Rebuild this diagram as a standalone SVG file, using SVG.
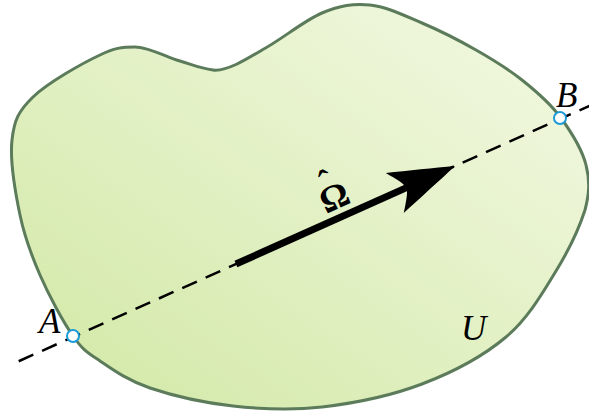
<svg xmlns="http://www.w3.org/2000/svg" width="589" height="414" viewBox="0 0 589 414">
<defs>
<linearGradient id="g" x1="0" y1="1" x2="1" y2="0">
<stop offset="0" stop-color="#d1e8a4"/>
<stop offset="1" stop-color="#f4f9e5"/>
</linearGradient>
<style>
.lbl{font-family:"Liberation Serif","DejaVu Serif",serif;font-style:italic;font-size:35px;fill:#000}
.pt{fill:#fff;stroke:#1a9ad8;stroke-width:2}
.om{font-family:"Liberation Serif","DejaVu Serif",serif;font-weight:bold;fill:#000}
</style>
</defs>
<g id="region-U">
<path d="M213,70 C226.7,71.8 248.3,58.3 262,50 C280.2,40.5 304,20.5 322,13 C340,5.5 353.3,3.3 370,5 C386.7,6.7 404.3,15.5 422,23 C439.7,30.5 459.3,40.5 476,50 C492.7,59.5 507.8,68.7 522,80 C536.2,91.3 550.7,103.8 561,118 C571.3,132.2 582.2,149.7 586,165 C589.8,180.3 589.7,192.3 585,210 C579.3,227.7 569,249.8 556,271 C543,292.2 528.3,318.2 506,337 C483.7,355.8 452.7,372.3 422,384 C391.3,395.7 353.5,403.3 322,407 C290.5,410.7 261.7,409.2 233,406 C204.3,402.8 172.2,395.5 150,388 C127.8,380.5 112.8,369.7 100,361 C87.2,352.3 83,350.3 73,336 C63,321.7 48.8,295.2 40,275 C31.2,254.8 24.7,237.5 20,215 C15.3,192.5 9.8,159.7 12,140 C14.2,120.3 18.3,111.2 33,97 C47.7,82.8 82.2,63.3 100,55 C114,48 122,47 135,47 C148.3,47 167,57.2 180,61 C193,64.8 199.3,68.2 213,70 Z" fill="url(#g)" stroke="#5b7b5b" stroke-width="3"/>
<text class="lbl" x="461" y="340">U</text>
</g>
<g id="connectors">
<g transform="translate(455,166) rotate(-24.11)">
<line x1="-478" y1="0" x2="150" y2="0" stroke="#000" stroke-width="2.5" stroke-dasharray="16 9.6"/>
<line x1="-240" y1="0" x2="-50" y2="0" stroke="#000" stroke-width="7"/>
<path d="M0,0 C-20,-7 -45,-15 -66,-22 C-58,-11 -54,-5 -53,0 C-54,5 -58,11 -66,22 C-45,15 -20,7 0,0 Z" fill="#000"/>
<text class="om" x="-123" y="-9" text-anchor="middle" font-size="36">Ω</text>
<text class="om" x="-124" y="-27" text-anchor="middle" font-size="34">ˆ</text>
</g>
</g>
<g id="point-A">
<circle class="pt" cx="73" cy="336" r="6"/>
<text class="lbl" x="39" y="333">A</text>
</g>
<g id="point-B">
<circle class="pt" cx="560" cy="118" r="6"/>
<text class="lbl" x="556" y="107">B</text>
</g>
</svg>
